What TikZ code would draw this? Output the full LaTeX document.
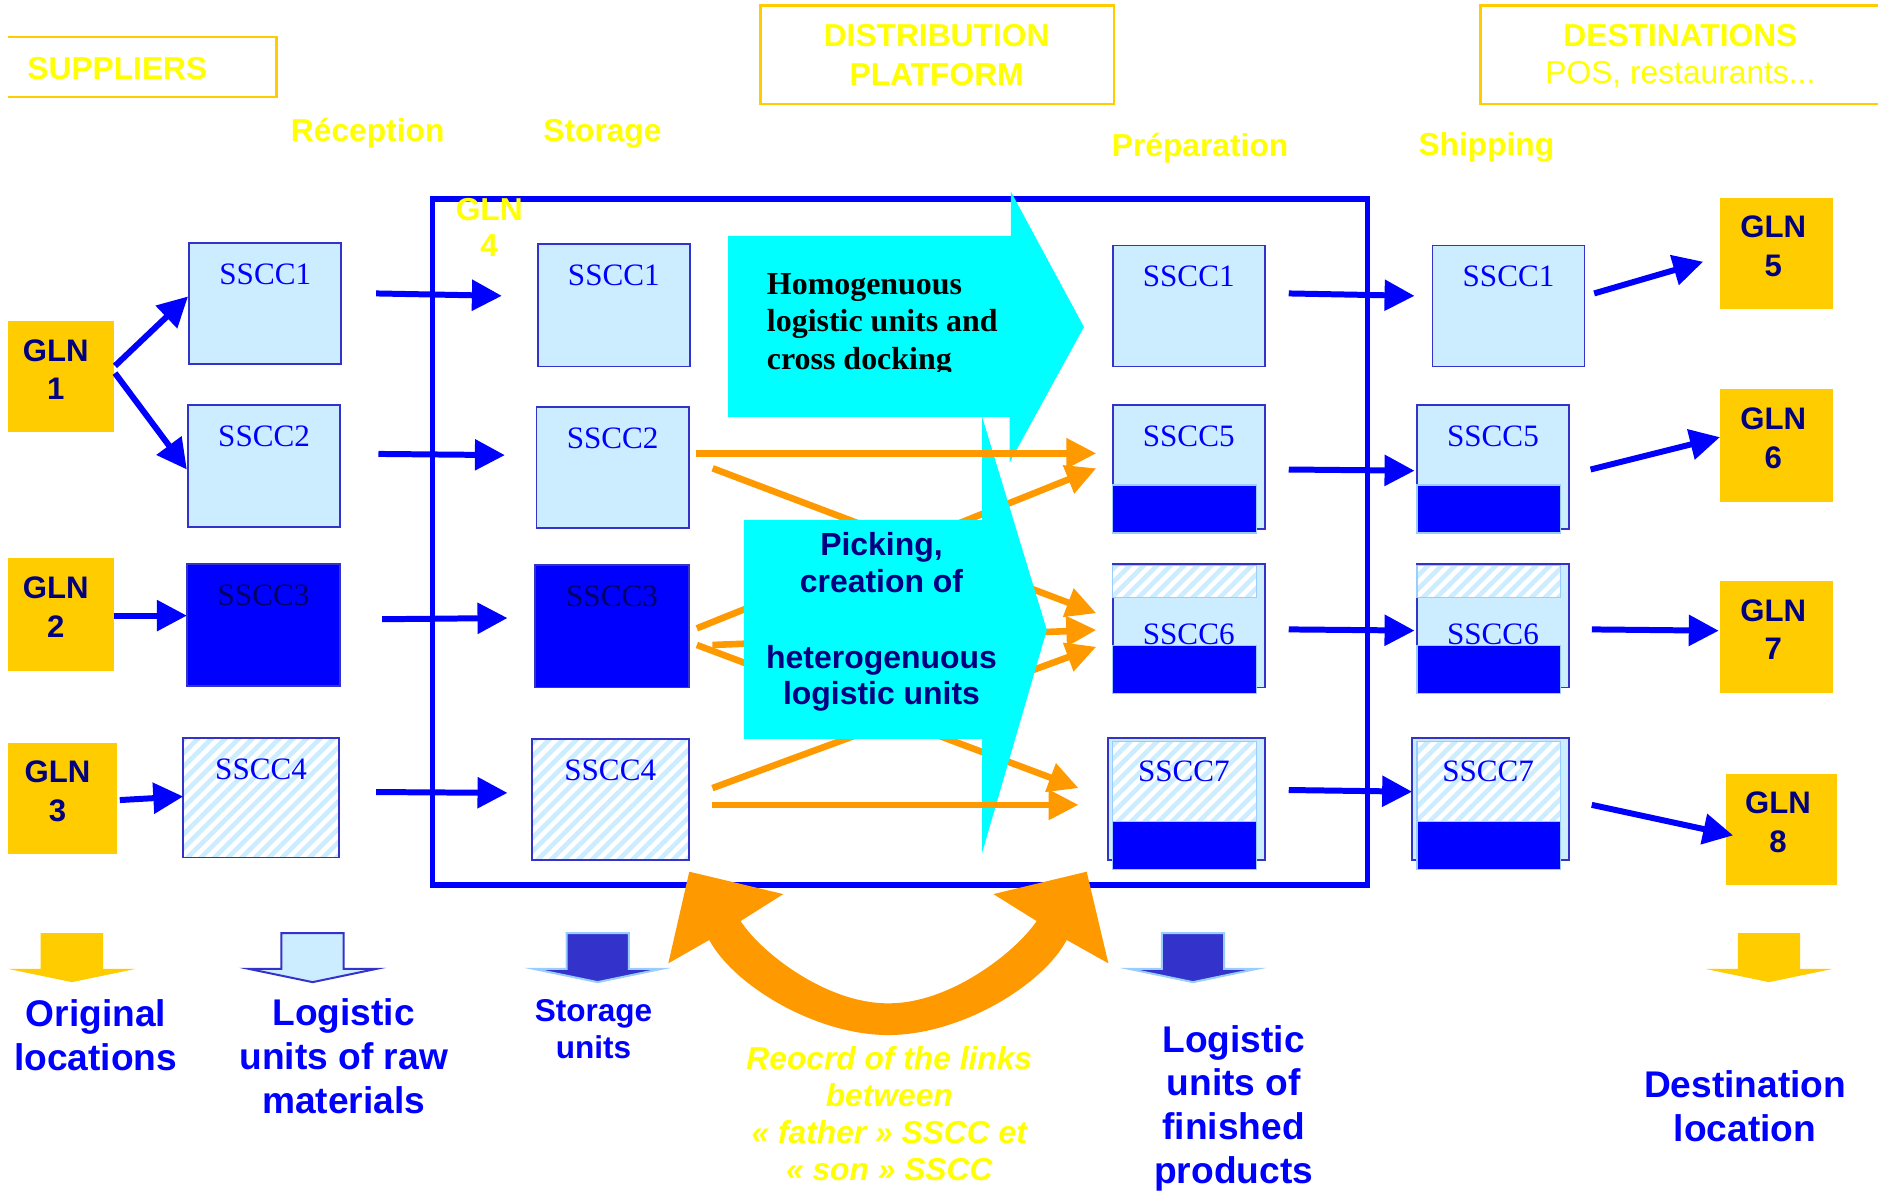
\documentclass[tikz,border=0pt]{standalone}
\usepackage{fontspec}
\setmainfont{Liberation Sans}
\newfontfamily\tmsfont{Liberation Serif}
\usetikzlibrary{arrows.meta,calc,patterns.meta}
\definecolor{cGold}{HTML}{FFCC00}
\definecolor{cYel}{HTML}{FFFF00}
\definecolor{cLB}{HTML}{CCECFF}
\definecolor{cBd}{HTML}{3333CC}
\definecolor{cBlue}{HTML}{0000FF}
\definecolor{cNavy}{HTML}{000080}
\definecolor{cOr}{HTML}{FF9900}
\definecolor{cCy}{HTML}{00FFFF}
\definecolor{cDB}{HTML}{3333CC}
\definecolor{cGlow}{HTML}{99CCFF}
\definecolor{cDk}{HTML}{000066}
\newcommand{\mybox}[6]{\node[#6,anchor=north west,minimum width={(#4-#2)*0.6pt},minimum height={(#5-#3)*0.6pt}] (#1) at (#2,#3) {};}
\newcommand{\blkarrow}[2]{\path[#2] ({#1-26},779) -- ({#1+26},779) -- ({#1+26},809) -- ({#1+53},809) -- (#1,820) -- ({#1-53},809) -- ({#1-26},809) -- cycle;}
\begin{document}
\begin{tikzpicture}[x=0.6pt,y=-0.6pt,
  ssccbox/.style={draw=cBd,line width=0.9pt,fill=cLB,inner sep=0pt,outer sep=0pt},
  darkbox/.style={ssccbox,fill=cBlue},
  hatchbox/.style={draw=cBd,line width=0.9pt,inner sep=0pt,outer sep=0pt,preaction={fill=white},preaction={pattern={Lines[angle=45,distance=4.8pt,line width=2.3pt]},pattern color=cLB}},
  darkpart/.style={fill=cBlue,draw=cGlow,line width=0.8pt},
  hatchpart/.style={draw=cGlow,line width=0.8pt,preaction={fill=white},pattern={Lines[angle=45,distance=4.8pt,line width=2.3pt]},pattern color=cLB},
  glnbox/.style={fill=cGold,inner sep=0pt,outer sep=0pt},
  platframe/.style={draw=cBlue,line width=2.7pt,inner sep=0pt,outer sep=0pt},
  hdr/.style={font=\bfseries\fontsize{15.9pt}{18pt}\selectfont,text=cYel,anchor=base,inner sep=0pt},
  hdrn/.style={font=\fontsize{15.9pt}{18pt}\selectfont,text=cYel,anchor=base,inner sep=0pt},
  sscc/.style={font=\tmsfont\fontsize{15.6pt}{18pt}\selectfont,text=cBlue,anchor=base,inner sep=0pt},
  glnt/.style={font=\bfseries\fontsize{15.6pt}{18pt}\selectfont,text=cNavy,anchor=base,inner sep=0pt},
  barrow/.style={draw=cBlue,line width=3pt,-{Triangle[length=15pt,width=15pt]}},
  oarrow/.style={draw=cOr,line width=3.3pt,-{Triangle[length=15pt,width=14.5pt]}},
  blab/.style={font=\bfseries\fontsize{18.6pt}{22pt}\selectfont,text=cBlue,anchor=base,inner sep=0pt},
  slab/.style={font=\bfseries\fontsize{15.8pt}{18pt}\selectfont,text=cBlue,anchor=base,inner sep=0pt},
  ylab/.style={font=\bfseries\itshape\fontsize{15.9pt}{18pt}\selectfont,text=cYel,anchor=base,inner sep=0pt},
  homt/.style={font=\tmsfont\bfseries\fontsize{16pt}{18pt}\selectfont,text=black,anchor=base west,inner sep=0pt},
  pickt/.style={font=\bfseries\fontsize{16pt}{18pt}\selectfont,text=cNavy,anchor=base,inner sep=0pt}]
\useasboundingbox (0,0) rectangle (1568,997);
\fill[white] (0,0) rectangle (1568,997);

% ---------- headers
\draw[cGold,line width=1.2pt] (7,31) -- (231,31) -- (231,81) -- (7,81);
\draw[cGold,line width=1.2pt] (635,4.5) rectangle (930,87);
\draw[cGold,line width=1.2pt] (1568,4.5) -- (1236,4.5) -- (1236,87) -- (1568,87);
\node[hdr] (hsup) at (98,66) {SUPPLIERS};
\node[hdr] (hdis1) at (782,39) {DISTRIBUTION};
\node[hdr] (hdis2) at (782,71) {PLATFORM};
\node[hdr] (hdes1) at (1403,39) {DESTINATIONS};
\node[hdrn] (hdes2) at (1403,69.6) {POS, restaurants...};
\node[hdr] (hrec) at (307,118) {Réception};
\node[hdr] (hsto) at (503,118.5) {Storage};
\node[hdr] (hprep) at (1002,131) {Préparation};
\node[hdr] (hship) at (1241,129.5) {Shipping};

% ---------- platform frame
\mybox{plat}{361}{166}{1142}{739}{platframe}

% ---------- reception column
\mybox{r1}{158}{203}{285}{304}{ssccbox}
\mybox{r2}{157}{338}{284}{440}{ssccbox}
\mybox{r3}{156}{471}{284}{573}{darkbox}
\mybox{r4}{153}{616}{283}{716}{hatchbox}
\node[sscc] (r1t) at ($(r1.north)+(0,34.5)$) {SSCC1};
\node[sscc] (r2t) at ($(r2.north)+(0,34.5)$) {SSCC2};
\node[sscc,text=cDk] (r3t) at ($(r3.north)+(0,34.5)$) {SSCC3};
\node[sscc] (r4t) at ($(r4.north)+(0,34.5)$) {SSCC4};

% ---------- storage column
\mybox{s1}{449}{204}{576}{306}{ssccbox}
\mybox{s2}{448}{340}{575}{441}{ssccbox}
\mybox{s3}{447}{472}{575}{574}{darkbox}
\mybox{s4}{444}{617}{575}{718}{hatchbox}
\node[sscc] (s1t) at ($(s1.north)+(0,34.5)$) {SSCC1};
\node[sscc] (s2t) at ($(s2.north)+(0,34.5)$) {SSCC2};
\node[sscc,text=cDk] (s3t) at ($(s3.north)+(0,34.5)$) {SSCC3};
\node[sscc] (s4t) at ($(s4.north)+(0,34.5)$) {SSCC4};

% ---------- preparation column
\mybox{p1}{929}{205}{1056}{306}{ssccbox}
\mybox{p5}{929}{338}{1056}{442}{ssccbox}
\mybox{p6}{929}{471}{1056}{574}{ssccbox}
\mybox{p7}{925}{616}{1056}{718}{ssccbox}
\node[sscc] (p1t) at ($(p1.north)+(0,34.5)$) {SSCC1};
\node[sscc] (p5t) at ($(p5.north)+(0,34.5)$) {SSCC5};
\path[darkpart] (929,405) rectangle (1049,445);
\path[hatchpart] (929,472) rectangle (1049,499);
\node[sscc] (p6t) at ($(p6.north)+(0,67.5)$) {SSCC6};
\path[darkpart] (929,539) rectangle (1049,579);
\path[hatchpart] (929,619) rectangle (1049,686);
\node[sscc] (p7t) at ($(p7.north)+(-2,36.5)$) {SSCC7};
\path[darkpart] (929,686) rectangle (1049,726);

% ---------- shipping column
\mybox{h1}{1196}{205}{1323}{306}{ssccbox}
\mybox{h5}{1183}{338}{1310}{442}{ssccbox}
\mybox{h6}{1183}{471}{1310}{574}{ssccbox}
\mybox{h7}{1179}{616}{1310}{718}{ssccbox}
\node[sscc] (h1t) at ($(h1.north)+(0,34.5)$) {SSCC1};
\node[sscc] (h5t) at ($(h5.north)+(0,34.5)$) {SSCC5};
\path[darkpart] (1183,405) rectangle (1303,445);
\path[hatchpart] (1183,472) rectangle (1303,499);
\node[sscc] (h6t) at ($(h6.north)+(0,67.5)$) {SSCC6};
\path[darkpart] (1183,539) rectangle (1303,579);
\path[hatchpart] (1183,619) rectangle (1303,686);
\node[sscc] (h7t) at ($(h7.north)+(-2,36.5)$) {SSCC7};
\path[darkpart] (1183,686) rectangle (1303,726);

% ---------- GLN boxes
\mybox{g1}{7}{268}{95}{361}{glnbox}
\mybox{g2}{7}{466}{95}{560}{glnbox}
\mybox{g3}{7}{620}{98}{713}{glnbox}
\mybox{g5}{1436}{165}{1530}{258}{glnbox}
\mybox{g6}{1436}{325}{1530}{419}{glnbox}
\mybox{g7}{1436}{485}{1530}{579}{glnbox}
\mybox{g8}{1441}{646}{1534}{739}{glnbox}
\node[glnt] (g1a) at ($(g1.center)+(-4.5,-13)$) {GLN};
\node[glnt] (g1b) at ($(g1.center)+(-4.5,19)$) {1};
\node[glnt] (g2a) at ($(g2.center)+(-4.5,-13)$) {GLN};
\node[glnt] (g2b) at ($(g2.center)+(-4.5,19)$) {2};
\node[glnt] (g3a) at ($(g3.center)+(-4.5,-13)$) {GLN};
\node[glnt] (g3b) at ($(g3.center)+(-4.5,19)$) {3};
\node[glnt] (g5a) at ($(g5.center)+(-2.5,-13)$) {GLN};
\node[glnt] (g5b) at ($(g5.center)+(-2.5,19)$) {5};
\node[glnt] (g6a) at ($(g6.center)+(-2.5,-13)$) {GLN};
\node[glnt] (g6b) at ($(g6.center)+(-2.5,19)$) {6};
\node[glnt] (g7a) at ($(g7.center)+(-2.5,-13)$) {GLN};
\node[glnt] (g7b) at ($(g7.center)+(-2.5,19)$) {7};
\node[glnt] (g8a) at ($(g8.center)+(-3,-13)$) {GLN};
\node[glnt] (g8b) at ($(g8.center)+(-3,19)$) {8};

% ---------- blue arrows
\draw[barrow] ($(g1.east)+(1,-9)$) -- ($(r1.west)+(-1,-6)$);
\draw[barrow] ($(g1.east)+(1,-3)$) -- ($(r2.west)+(-1,3)$);
\draw[barrow] ($(g2.east)+(0,1)$) -- ($(r3.west)+(0,-8)$);
\draw[barrow] ($(g3.east)+(2,1.5)$) -- ($(r4.west)+(0,-1)$);
\draw[barrow] ($(r1.east)+(29,-8.5)$) -- ($(s1.west)+(-30,-8)$);
\draw[barrow] ($(r2.east)+(32,-10)$) -- ($(s2.west)+(-26.5,-10.5)$);
\draw[barrow] ($(r3.east)+(35,-5)$) -- ($(s3.west)+(-23.3,-7)$);
\draw[barrow] ($(r4.east)+(31,-4.7)$) -- ($(s4.west)+(-20.3,-5.5)$);
\draw[barrow] ($(p1.east)+(20,-10.5)$) -- ($(h1.west)+(-15,-8.5)$);
\draw[barrow] ($(p5.east)+(20,2)$) -- ($(h5.west)+(-2,3)$);
\draw[barrow] ($(p6.east)+(20,3)$) -- ($(h6.west)+(-2,4)$);
\draw[barrow] ($(p7.east)+(20,-7.4)$) -- ($(h7.west)+(0,-6)$);
\draw[barrow] ($(h1.east)+(8,-10.5)$) -- ($(g5.west)+(-14,7)$);
\draw[barrow] ($(h5.east)+(18,2)$) -- ($(g6.west)+(0,-7)$);
\draw[barrow] ($(h6.east)+(19,3)$) -- ($(g7.west)+(-1,-5.4)$);
\draw[barrow] ($(h7.east)+(19,5)$) -- ($(g8.west)+(6,5)$);

% ---------- orange arrows (diagonals, under the cyan arrows)
\draw[oarrow] ($(s2.east)+(20,0.5)$) -- ($(p6.west)+(-13.7,-10.5)$);
\draw[oarrow] ($(s3.east)+(6.8,1.6)$) -- ($(p5.west)+(-13.7,1)$);
\draw[oarrow] ($(s3.east)+(19.8,15.5)$) -- ($(p6.west)+(-13.7,3.5)$);
\draw[oarrow] ($(s3.east)+(6.8,15.5)$) -- ($(p7.west)+(-24.5,-9)$);
\draw[oarrow] ($(s4.east)+(19.8,-9.5)$) -- ($(p6.west)+(-13.7,17.5)$);

% ---------- cyan block arrows
\fill[cCy] (608,197) -- (844,197) -- (844,160) -- (905,273) -- (843,386) -- (843,348) -- (608,348) -- cycle;
\fill[cCy] (621,434) -- (820,434) -- (820,348) -- (874,526) -- (820,712) -- (820,617) -- (621,617) -- cycle;
\begin{scope}
\clip (600,150) rectangle (900,310.5);
\node[homt] (hom1) at (640,246.3) {Homogenuous};
\node[homt] (hom2) at (640,277) {logistic units and};
\node[homt] (hom3) at (640,308.5) {cross docking};
\end{scope}
\node[pickt] (pk1) at (736,463.4) {Picking,};
\node[pickt] (pk2) at (736,494.6) {creation of};
\node[pickt] (pk3) at (736,557.8) {heterogenuous};
\node[pickt] (pk4) at (736,588.6) {logistic units};

% ---------- orange arrows (horizontals, over the cyan arrows)
\draw[oarrow] ($(s2.east)+(6,-12)$) -- ($(p5.west)+(-13.7,-11.5)$);
\draw[oarrow] ($(s4.east)+(19.8,4.5)$) -- ($(p7.west)+(-24.5,5)$);

% ---------- GLN 4
\node[hdr] (g4a) at (408.5,184) {GLN};
\node[hdr] (g4b) at (408.5,214) {4};

% ---------- orange double arrow
\fill[cOr] (575.5,727.8) -- (558,804.3) -- (592.2,784.8)
  .. controls (612,822) and (680,864) .. (741.7,864.2)
  .. controls (803,864) and (871,822) .. (890.6,784.8)
  -- (925.4,804.3) -- (907.3,727.8) -- (829.4,746.5) -- (865.5,769)
  .. controls (848,795) and (793,838) .. (741.7,837.7)
  .. controls (690,838) and (635,795) .. (618.4,769)
  -- (654,746.5) -- cycle;

% ---------- legend arrows
\blkarrow{60}{fill=cGold}
\blkarrow{261}{fill=cLB,draw=cBd,line width=1pt}
\blkarrow{499}{fill=cDB,draw=cGlow,line width=1pt}
\blkarrow{996}{fill=cDB,draw=cGlow,line width=1pt}
\blkarrow{1477}{fill=cGold}

% ---------- legend labels
\foreach \t [count=\i] in {Original,locations}
  \node[blab] (orig\i) at (80,{857+36.5*(\i-1)}) {\t};
\foreach \t [count=\i] in {Logistic,units of raw,materials}
  \node[blab] (lraw\i) at (287,{856.6+36.5*(\i-1)}) {\t};
\foreach \t [count=\i] in {Storage,units}
  \node[slab] (stu\i) at (495.5,{853+30.6*(\i-1)}) {\t};
\foreach \t [count=\i] in {Reocrd of the links,between,« father » SSCC et,« son » SSCC}
  \node[ylab] (rec\i) at (742.5,{892.6+31*(\i-1)}) {\t};
\foreach \t [count=\i] in {Logistic,units of,finished,products}
  \node[blab] (fin\i) at (1030,{878.6+36.4*(\i-1)}) {\t};
\foreach \t [count=\i] in {Destination,location}
  \node[blab] (dst\i) at (1457,{916+36.7*(\i-1)}) {\t};
\end{tikzpicture}
\end{document}
